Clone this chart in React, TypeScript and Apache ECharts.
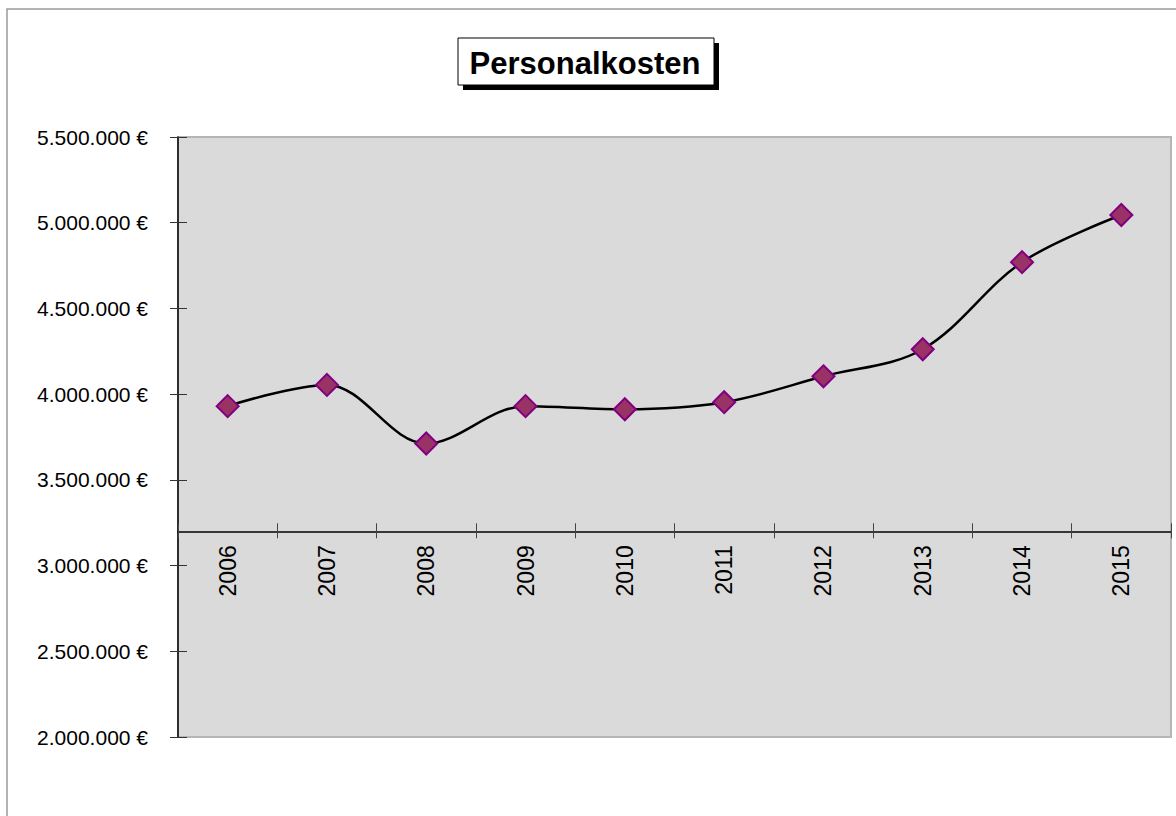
import React, { useEffect, useRef } from "react";
import * as echarts from "echarts";

const categories = ["2006", "2007", "2008", "2009", "2010", "2011", "2012", "2013", "2014", "2015"];
const personalkosten = [3930000, 4054000, 3712000, 3930000, 3912000, 3953000, 4104000, 4262000, 4770000, 5045000];
const yMin = 2000000;
const yMax = 5500000;
const yStep = 500000;
const xCross = 3200000;

const fmtEuro = (v: number) => String(Math.round(v)).replace(/\B(?=(\d{3})+(?!\d))/g, ".") + " €";

const SANS = '"Liberation Sans", Arial, sans-serif';

export default function App() {
  const ref = useRef<HTMLDivElement>(null);
  useEffect(() => {
    if (!ref.current) return;
    const chart = echarts.init(ref.current, null, { renderer: "svg" });
    const gridTop = 137;
    const gridBottom = 79;
    const gridH = 816 - gridTop - gridBottom;
    const xOffset = -((xCross - yMin) / (yMax - yMin)) * gridH;
    const xBase = {
      type: "category",
      data: categories,
      boundaryGap: true,
      position: "bottom",
      offset: xOffset,
    };
    const yBase = {
      type: "value",
      min: yMin,
      max: yMax,
      interval: yStep,
      position: "left",
      splitLine: { show: false },
    };
    chart.setOption({
      animation: false,
      backgroundColor: "#ffffff",
      graphic: [
        {
          type: "rect",
          shape: { x: 7, y: 9, width: 1185, height: 830 },
          style: { fill: "none", stroke: "#9a9a9a", lineWidth: 1.5 },
          silent: true,
          z: -10,
        },
        {
          type: "rect",
          shape: { x: 463, y: 43, width: 256, height: 47 },
          style: { fill: "#000000" },
          silent: true,
        },
        {
          type: "rect",
          shape: { x: 458, y: 38, width: 256, height: 47 },
          style: { fill: "#ffffff", stroke: "#000000", lineWidth: 1 },
          silent: true,
        },
        {
          type: "text",
          x: 585,
          y: 63,
          style: {
            text: "Personalkosten",
            fill: "#000000",
            font: 'bold 31px "Liberation Sans", Arial, sans-serif',
            align: "center",
            verticalAlign: "middle",
          },
          silent: true,
        },
      ],
      grid: {
        left: 178,
        right: 5,
        top: gridTop,
        bottom: gridBottom,
        show: true,
        backgroundColor: "#dadada",
        borderColor: "#b5b5b5",
        borderWidth: 2,
      },
      xAxis: [
        {
          ...xBase,
          axisLine: { show: true, onZero: false, lineStyle: { color: "#000000", width: 1.5 } },
          axisTick: { show: true, inside: false, length: 7, lineStyle: { color: "#444444" } },
          axisLabel: {
            rotate: 90,
            margin: 14,
            fontSize: 23,
            color: "#000000",
            fontFamily: SANS,
          },
        },
        {
          ...xBase,
          axisLine: { show: false },
          axisTick: { show: true, inside: true, length: 8, lineStyle: { color: "#444444" } },
          axisLabel: { show: false },
        },
      ],
      yAxis: [
        {
          ...yBase,
          axisLine: { show: true, lineStyle: { color: "#000000", width: 1.5 } },
          axisTick: { show: true, inside: false, length: 8, lineStyle: { color: "#333333" } },
          axisLabel: {
            margin: 30,
            fontSize: 21,
            color: "#000000",
            fontFamily: SANS,
            formatter: (v: number) => fmtEuro(v),
          },
        },
        {
          ...yBase,
          axisLine: { show: false },
          axisTick: { show: true, inside: true, length: 9, lineStyle: { color: "#333333" } },
          axisLabel: { show: false },
        },
      ],
      series: [
        {
          type: "line",
          name: "Personalkosten",
          data: personalkosten,
          xAxisIndex: 0,
          yAxisIndex: 0,
          smooth: 0.35,
          lineStyle: { color: "#000000", width: 2.5 },
          symbol: "diamond",
          symbolSize: 22,
          itemStyle: { color: "#993366", borderColor: "#800080", borderWidth: 2 },
          z: 5,
        },
      ],
    });
    return () => chart.dispose();
  }, []);
  return (
    <div
      ref={ref}
      style={{ position: "absolute", left: 0, top: 0, width: 1176, height: 816 }}
    />
  );
}
